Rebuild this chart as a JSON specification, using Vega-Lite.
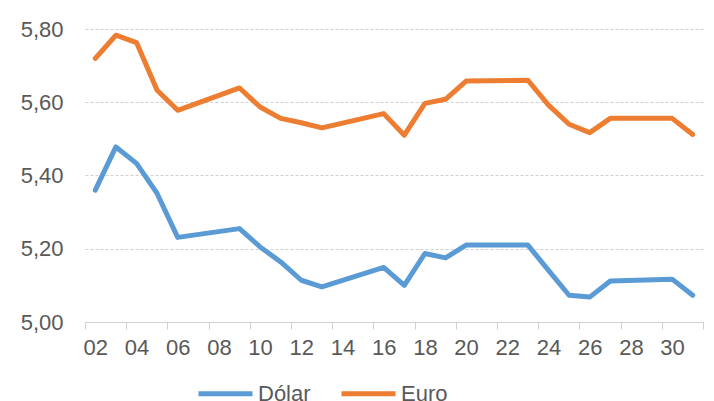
{
  "$schema": "https://vega.github.io/schema/vega-lite/v6.json",
  "width": 618,
  "height": 293,
  "autosize": {"type": "none"},
  "padding": {"left": 85, "top": 29, "right": 11, "bottom": 79},
  "background": "white",
  "config": {
    "view": {"stroke": null},
    "font": "Liberation Sans",
    "axis": {"labelFont": "Liberation Sans", "labelColor": "#595959", "labelFontSize": 22}
  },
  "data": {
    "values": [
      {"day": 2, "serie": "Dólar", "valor": 5.360},
      {"day": 3, "serie": "Dólar", "valor": 5.478},
      {"day": 4, "serie": "Dólar", "valor": 5.433},
      {"day": 5, "serie": "Dólar", "valor": 5.351},
      {"day": 6, "serie": "Dólar", "valor": 5.231},
      {"day": 9, "serie": "Dólar", "valor": 5.255},
      {"day": 10, "serie": "Dólar", "valor": 5.205},
      {"day": 11, "serie": "Dólar", "valor": 5.164},
      {"day": 12, "serie": "Dólar", "valor": 5.114},
      {"day": 13, "serie": "Dólar", "valor": 5.096},
      {"day": 16, "serie": "Dólar", "valor": 5.149},
      {"day": 17, "serie": "Dólar", "valor": 5.100},
      {"day": 18, "serie": "Dólar", "valor": 5.187},
      {"day": 19, "serie": "Dólar", "valor": 5.175},
      {"day": 20, "serie": "Dólar", "valor": 5.210},
      {"day": 23, "serie": "Dólar", "valor": 5.210},
      {"day": 24, "serie": "Dólar", "valor": 5.141},
      {"day": 25, "serie": "Dólar", "valor": 5.073},
      {"day": 26, "serie": "Dólar", "valor": 5.068},
      {"day": 27, "serie": "Dólar", "valor": 5.112},
      {"day": 30, "serie": "Dólar", "valor": 5.117},
      {"day": 31, "serie": "Dólar", "valor": 5.073},
      {"day": 2, "serie": "Euro", "valor": 5.720},
      {"day": 3, "serie": "Euro", "valor": 5.783},
      {"day": 4, "serie": "Euro", "valor": 5.763},
      {"day": 5, "serie": "Euro", "valor": 5.633},
      {"day": 6, "serie": "Euro", "valor": 5.578},
      {"day": 9, "serie": "Euro", "valor": 5.639},
      {"day": 10, "serie": "Euro", "valor": 5.587},
      {"day": 11, "serie": "Euro", "valor": 5.556},
      {"day": 12, "serie": "Euro", "valor": 5.544},
      {"day": 13, "serie": "Euro", "valor": 5.530},
      {"day": 16, "serie": "Euro", "valor": 5.569},
      {"day": 17, "serie": "Euro", "valor": 5.510},
      {"day": 18, "serie": "Euro", "valor": 5.597},
      {"day": 19, "serie": "Euro", "valor": 5.608},
      {"day": 20, "serie": "Euro", "valor": 5.658},
      {"day": 23, "serie": "Euro", "valor": 5.660},
      {"day": 24, "serie": "Euro", "valor": 5.592},
      {"day": 25, "serie": "Euro", "valor": 5.540},
      {"day": 26, "serie": "Euro", "valor": 5.517},
      {"day": 27, "serie": "Euro", "valor": 5.556},
      {"day": 30, "serie": "Euro", "valor": 5.556},
      {"day": 31, "serie": "Euro", "valor": 5.512}
    ]
  },
  "mark": {"type": "line", "strokeWidth": 5, "strokeJoin": "round", "strokeCap": "round"},
  "encoding": {
    "x": {
      "field": "day",
      "type": "quantitative",
      "scale": {"domain": [1.5, 31.5], "nice": false, "zero": false},
      "axis": {
        "title": null,
        "values": [1.5, 3.5, 5.5, 7.5, 9.5, 11.5, 13.5, 15.5, 17.5, 19.5, 21.5, 23.5, 25.5, 27.5, 29.5, 31.5],
        "labelExpr": "datum.value < 31 ? ((datum.value + 0.5 < 10 ? '0' : '') + (datum.value + 0.5)) : ''",
        "labelOffset": 10.3,
        "labelFlush": false,
        "labelOverlap": false,
        "grid": false,
        "domainColor": "#D0D0D0",
        "domainWidth": 1,
        "tickColor": "#D0D0D0",
        "tickSize": 7,
        "tickWidth": 1,
        "labelPadding": 8
      }
    },
    "y": {
      "field": "valor",
      "type": "quantitative",
      "scale": {"domain": [5, 5.8], "nice": false, "zero": false},
      "axis": {
        "title": null,
        "values": [5, 5.2, 5.4, 5.6, 5.8],
        "labelExpr": "replace(format(datum.value, '.2f'), '.', ',')",
        "domain": false,
        "ticks": false,
        "labelPadding": 22,
        "grid": true,
        "gridColor": "#D0D0D0",
        "gridDash": [3, 2],
        "gridWidth": 1
      }
    },
    "color": {
      "field": "serie",
      "type": "nominal",
      "scale": {"domain": ["Dólar", "Euro"], "range": ["#5B9BD5", "#ED7D31"]},
      "legend": {
        "title": null,
        "orient": "none",
        "direction": "horizontal",
        "legendX": 111,
        "legendY": 335,
        "padding": 0,
        "symbolType": "stroke",
        "symbolSize": 2916,
        "symbolStrokeWidth": 5,
        "labelFontSize": 22,
        "labelFont": "Liberation Sans",
        "labelColor": "#595959",
        "labelOffset": 3,
        "columnPadding": 20
      }
    }
  }
}
